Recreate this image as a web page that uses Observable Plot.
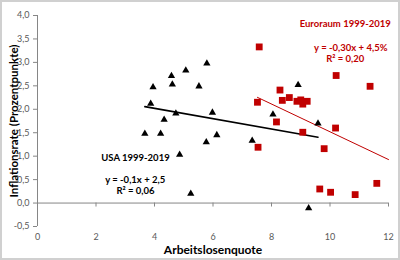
<!DOCTYPE html>
<html>
<head>
<meta charset="utf-8">
<script src="https://cdn.jsdelivr.net/npm/d3@7"></script>
<script src="https://cdn.jsdelivr.net/npm/@observablehq/plot@0.6"></script>
<style>
  html, body { margin: 0; padding: 0; background: #fff; }
  #chart svg { display: block; outline: 2px solid #d0d0d0; outline-offset: -2px; }
</style>
</head>
<body>
<div id="chart"></div>
<script>
// Unemployment rate (x) and inflation rate (y), yearly, 1999-2019
const usaUnemployment = [5.79, 5.07, 4.58, 4.61, 3.95, 5.52, 3.87, 4.73, 4.33, 3.67, 4.21,
  5.77, 4.86, 5.24, 8.91, 5.98, 8.05, 9.59, 9.27, 6.13, 7.34];
const usaInflation = [2.98, 2.83, 2.71, 2.53, 2.47, 2.49, 2.12, 1.91, 1.78, 1.48, 1.48,
  1.30, 1.03, 0.20, 2.52, 1.93, 1.89, 1.70, -0.11, 1.45, 1.33];

const euroUnemployment = [7.58, 8.29, 8.37, 8.61, 8.87, 9.07, 9.22, 7.52, 8.17, 10.21,
  11.37, 10.19, 9.07, 9.80, 7.54, 9.65, 10.02, 10.86, 11.60, 9.00];
const euroInflation = [3.33, 2.41, 2.19, 2.25, 2.17, 2.11, 2.17, 2.15, 1.73, 2.72,
  2.49, 1.60, 1.51, 1.16, 1.19, 0.30, 0.23, 0.18, 0.42, 2.20];

// Linear trend lines and their fit quality
const usaSlope = -0.11, usaIntercept = 2.46, usaR2 = 0.06;
const euroSlope = -0.296, euroIntercept = 4.48, euroR2 = 0.20;

const xTicks = [0, 2, 4, 6, 8, 10, 12];
const yTicks = [-0.5, 0, 0.5, 1, 1.5, 2, 2.5, 3, 3.5, 4];

const usaTitle = "USA 1999-2019";
const euroTitle = "Euroraum 1999-2019";
const xTitle = "Arbeitslosenquote";
const yTitle = "Inflationsrate (Prozentpunkte)";

const comma = (v, d) => v.toFixed(d).replace(".", ",");
const eq = (m, b, dm, db, unit) =>
  `y = ${comma(m, dm)}x ${b < 0 ? "-" : "+"} ${comma(Math.abs(b), db)}${unit}`;

const usa = usaUnemployment.map((x, i) => ({x, y: usaInflation[i]}));
const euro = euroUnemployment.map((x, i) => ({x, y: euroInflation[i]}));

const usaX = [d3.min(usaUnemployment), d3.max(usaUnemployment)];
const euroX = [d3.min(euroUnemployment), xTicks[xTicks.length - 1]];
const usaTrend = usaX.map(x => ({x, y: usaSlope * x + usaIntercept}));
const euroTrend = euroX.map(x => ({x, y: euroSlope * x + euroIntercept}));

const red = "#c00000";
const axisGray = "#868686";
const font = "Lato, 'Open Sans', sans-serif";

const chart = Plot.plot({
  width: 400,
  height: 260,
  marginLeft: 37,
  marginRight: 12,
  marginTop: 15,
  marginBottom: 34,
  style: {fontFamily: font, background: "#fff", overflow: "visible"},
  x: {domain: [0, 12]},
  y: {domain: [-0.5, 4]},
  marks: [
    Plot.ruleX([0], {stroke: axisGray}),
    Plot.ruleY([0], {stroke: axisGray}),
    Plot.ruleX(xTicks.slice(1), {y1: 0, y2: -0.085, stroke: axisGray}),
    Plot.axisY({ticks: yTicks, tickSize: 4, tickPadding: 4, tickFormat: d => comma(d, 1),
      label: null, stroke: axisGray, fill: "#595959", fontSize: 9}),
    Plot.axisX({ticks: xTicks, tickSize: 0, tickPadding: 7, tickFormat: d => String(d),
      label: null, fill: "#595959", fontSize: 9}),
    Plot.line(euroTrend, {x: "x", y: "y", stroke: red, strokeWidth: 1}),
    Plot.line(usaTrend, {x: "x", y: "y", stroke: "#000", strokeWidth: 1.6}),
    Plot.dot(usa, {x: "x", y: "y", symbol: "triangle", r: 2.7, fill: "#000", stroke: "none"}),
    Plot.dot(euro, {x: "x", y: "y", symbol: "square", r: 3.85, fill: red, stroke: "none"}),
    Plot.text([euroTitle], {x: 10.52, y: 3.81, fill: red, fontWeight: "bold", fontSize: 9.5}),
    Plot.text([eq(euroSlope, euroIntercept, 2, 1, "%")], {x: 10.71, y: 3.31, fill: red, fontWeight: "bold", fontSize: 9.5}),
    Plot.text([`R² = ${comma(euroR2, 2)}`], {x: 10.52, y: 3.07, fill: red, fontWeight: "bold", fontSize: 9.5}),
    Plot.text([usaTitle], {x: 3.35, y: 0.97, fill: "#000", fontWeight: "bold", fontSize: 9.5}),
    Plot.text([eq(usaSlope, usaIntercept, 1, 1, "")], {x: 3.34, y: 0.49, fill: "#000", fontWeight: "bold", fontSize: 9.5}),
    Plot.text([`R² = ${comma(usaR2, 2)}`], {x: 3.35, y: 0.25, fill: "#000", fontWeight: "bold", fontSize: 9.5}),
    Plot.text([yTitle], {frameAnchor: "left", rotate: -90, dx: -23, textAnchor: "middle",
      lineAnchor: "middle", fontWeight: "bold", fontSize: 11.5, fill: "#000"}),
    Plot.text([xTitle], {frameAnchor: "bottom", dy: 24, textAnchor: "middle",
      lineAnchor: "middle", fontWeight: "bold", fontSize: 12, fill: "#000"})
  ]
});

document.getElementById("chart").appendChild(chart);
</script>
</body>
</html>
